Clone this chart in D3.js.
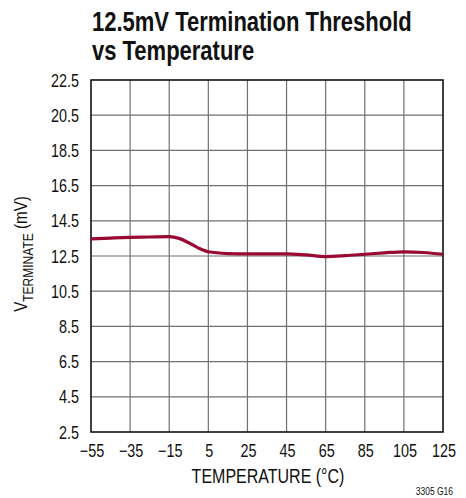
<!DOCTYPE html>
<html><head><meta charset="utf-8">
<script src="https://cdn.jsdelivr.net/npm/d3@7"></script>
<style>body{margin:0;background:#fff}svg{display:block}</style>
</head><body>
<svg id="c" width="466" height="498"></svg>
<script>
const temps = [-55,-45,-35,-25,-15,-10,-5,0,5,15,25,35,45,55,65,75,85,95,105,115,125];
const vterm = [13.47,13.52,13.56,13.58,13.6,13.5,13.25,12.95,12.74,12.64,12.62,12.62,12.62,12.56,12.47,12.52,12.6,12.68,12.74,12.7,12.6];
const xTicks = [-55,-35,-15,5,25,45,65,85,105,125];
const yTicks = [2.5,4.5,6.5,8.5,10.5,12.5,14.5,16.5,18.5,20.5,22.5];

const F = "'Liberation Sans',Arial,sans-serif";
const SX = 0.8;
const svg = d3.select("#c");
const L=91, R=443, T=80, B=432;
const x = d3.scaleLinear().domain([-55,125]).range([L,R]);
const y = d3.scaleLinear().domain([2.5,22.5]).range([B,T]);

// grid
svg.append("g").selectAll("line").data(xTicks.slice(1,-1)).join("line")
  .attr("x1",d=>x(d)).attr("x2",d=>x(d)).attr("y1",T).attr("y2",B)
  .attr("stroke","#707070").attr("stroke-width",1.2);
svg.append("g").selectAll("line").data(yTicks.slice(1,-1)).join("line")
  .attr("y1",d=>y(d)).attr("y2",d=>y(d)).attr("x1",L).attr("x2",R)
  .attr("stroke","#707070").attr("stroke-width",1.2);
svg.append("rect").attr("x",L).attr("y",T).attr("width",R-L).attr("height",B-T)
  .attr("fill","none").attr("stroke","#111").attr("stroke-width",1.6);

// line
svg.append("path").datum(temps.map((t,i)=>[t,vterm[i]]))
  .attr("d", d3.line().x(d=>x(d[0])).y(d=>y(d[1])).curve(d3.curveMonotoneX))
  .attr("fill","none").attr("stroke","#990a32").attr("stroke-width",3.2);

// tick labels
svg.append("g").selectAll("text").data(yTicks).join("text")
  .attr("transform",d=>`translate(${L-12},${y(d)+6.5}) scale(${SX},1)`).attr("text-anchor","end")
  .attr("font-family",F).attr("font-size",18).attr("fill","#111").text(d=>d.toFixed(1));
svg.append("g").selectAll("text").data(xTicks).join("text")
  .attr("transform",d=>`translate(${x(d)+1},${B+24.5}) scale(${SX},1)`).attr("text-anchor","middle")
  .attr("font-family",F).attr("font-size",18).attr("fill","#111")
  .text(d=>d<0?"\u2212"+Math.abs(d):d);

// axis titles
svg.append("text").attr("transform",`translate(${(L+R)/2+1},483) scale(0.8,1)`).attr("text-anchor","middle")
  .attr("font-family",F).attr("font-size",20).attr("fill","#111").text("TEMPERATURE (°C)");
const yl = svg.append("text").attr("transform",`translate(27,254) rotate(-90) scale(0.8,1)`)
  .attr("text-anchor","middle").attr("font-family",F).attr("font-size",19).attr("fill","#111");
yl.append("tspan").text("V");
yl.append("tspan").attr("font-size",15).attr("dy",6).text("TERMINATE");
yl.append("tspan").attr("dy",-6).text(" (mV)");

svg.append("text").attr("transform","translate(453,495) scale(0.85,1)").attr("text-anchor","end")
  .attr("font-family",F).attr("font-size",10).attr("fill","#111").text("3305 G16");

// title
const tt = svg.append("text").attr("transform","translate(92,0) scale(0.8,1)")
  .attr("font-family",F).attr("font-size",27.5).attr("font-weight","bold").attr("fill","#111");
tt.append("tspan").attr("x",0).attr("y",31.5).text("12.5mV Termination Threshold");
tt.append("tspan").attr("x",0).attr("y",60.5).text("vs Temperature");
</script>
</body></html>
